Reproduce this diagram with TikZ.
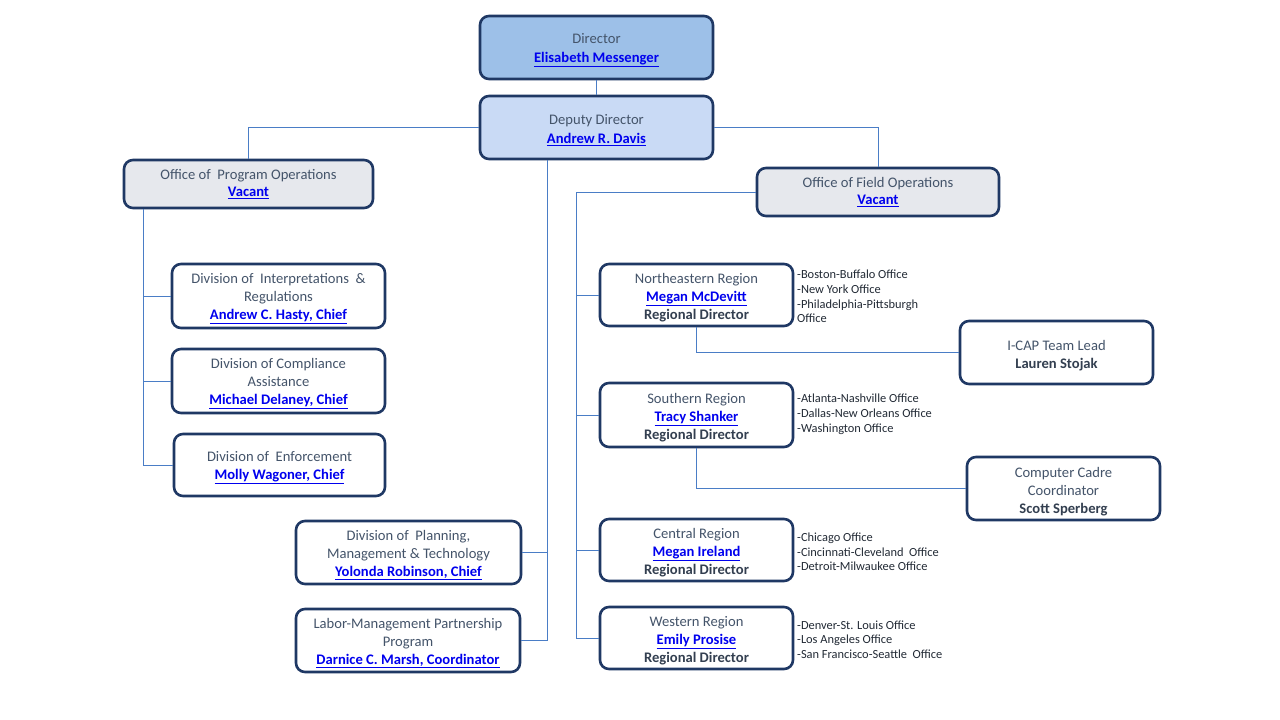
\documentclass[tikz,border=0pt]{standalone}
\usepackage{fontspec}
\setmainfont{Carlito}
\usepackage{xcolor}
\definecolor{boxedge}{HTML}{1F3864}
\definecolor{dirfill}{HTML}{9DC0E8}
\definecolor{depfill}{HTML}{C9DAF5}
\definecolor{offill}{HTML}{E6E8ED}
\definecolor{titletext}{HTML}{44546A}
\definecolor{boldtext}{HTML}{333F50}
\definecolor{nameblue}{HTML}{0000EE}
\definecolor{linkline}{HTML}{4A7DC6}
\definecolor{listtext}{HTML}{222A35}
\usepackage{tikz}
\usetikzlibrary{positioning,calc}
\newcommand{\who}[1]{\textbf{\color{nameblue}\underline{#1}}}
\newcommand{\role}[1]{\textbf{\color{boldtext}#1}}
\newcommand{\gapline}{\rule{0pt}{15.5pt}}
\tikzset{
  box/.style={draw=boxedge,fill=white,line width=2.6pt,rounded corners=9pt,align=center,
    font=\fontsize{14.6}{18}\selectfont,text=titletext,inner sep=0pt},
  boxd/.style={box,fill=dirfill},
  boxp/.style={box,fill=depfill},
  boxo/.style={box,fill=offill},
  link/.style={draw=linkline,line width=0.9pt},
  offices/.style={anchor=north west,align=left,inner sep=0pt,
    font=\fontsize{12.4}{14.7}\selectfont,text=listtext},
}

\begin{document}
\begin{tikzpicture}[x=1pt,y=-1pt]
  \useasboundingbox[fill=white] (0,0) rectangle (1280,720);
  % top of the chart
  \node[boxd,minimum width=233pt,minimum height=63pt] (dir) at (596.5,47.5) {\gapline Director\\[1pt]\who{Elisabeth Messenger}};
  \node[boxp,minimum width=233pt,minimum height=63pt] (dep) at (596.5,127.5) {\gapline Deputy Director\\[1pt]\who{Andrew R. Davis}};
  % offices
  \node[boxo,minimum width=249pt,minimum height=48pt] (opo) at (248.5,184) {Office of\ \ Program Operations\\[-1pt]\who{Vacant}};
  \node[boxo,minimum width=242pt,minimum height=48pt] (ofo) at (878,192) {Office of Field Operations\\[-1pt]\who{Vacant}};
  % program operations divisions
  \node[box,minimum width=213pt,minimum height=64pt] (dip) at (278.5,296) {\gapline Division of\ \ Interpretations\ \ \&\\Regulations\\\who{Andrew C. Hasty, Chief}};
  \node[box,minimum width=213pt,minimum height=64pt] (dca) at (278.5,381) {\gapline Division of Compliance\\Assistance\\\who{Michael Delaney, Chief}};
  \node[box,minimum width=211pt,minimum height=62pt] (den) at (279.5,465) {\gapline Division of\ \ Enforcement\\\who{Molly Wagoner, Chief}};
  % deputy staff units
  \node[box,minimum width=225pt,minimum height=63pt] (dpm) at (408.5,552.5) {\gapline Division of\ \ Planning,\\Management \& Technology\\\who{Yolonda Robinson, Chief}};
  \node[box,minimum width=224pt,minimum height=63pt] (lmp) at (408,640.5) {\gapline Labor-Management Partnership\\Program\\\who{Darnice C. Marsh, Coordinator}};
  % regions
  \node[box,minimum width=193pt,minimum height=62pt] (ner) at (696.5,295) {\gapline Northeastern Region\\\who{Megan McDevitt}\\\role{Regional Director}};
  \node[box,minimum width=193pt,minimum height=64pt] (sor) at (696.5,415) {\gapline Southern Region\\\who{Tracy Shanker}\\\role{Regional Director}};
  \node[box,minimum width=193pt,minimum height=62pt] (cer) at (696.5,550) {\gapline Central Region\\\who{Megan Ireland}\\\role{Regional Director}};
  \node[box,minimum width=193pt,minimum height=62pt] (wer) at (696.5,638) {\gapline Western Region\\\who{Emily Prosise}\\\role{Regional Director}};
  % field staff
  \node[box,minimum width=193pt,minimum height=63pt] (icap) at (1056.5,352.5) {\gapline I-CAP Team Lead\\\role{Lauren Stojak}};
  \node[box,minimum width=193pt,minimum height=63pt] (ccc) at (1063.5,488.5) {\gapline Computer Cadre\\Coordinator\\\role{Scott Sperberg}};
  % office lists
  \node[offices] (nelist) at (797,270) {-Boston-Buffalo Office\\-New York Office\\-Philadelphia-Pittsburgh\\Office};
  \node[offices] (solist) at (797,394) {-Atlanta-Nashville Office\\-Dallas-New Orleans Office\\-Washington Office};
  \node[offices] (celist) at (797,532.5) {-Chicago Office\\-Cincinnati-Cleveland\ \ Office\\-Detroit-Milwaukee Office};
  \node[offices] (welist) at (797,620.5) {-Denver-St. Louis Office\\-Los Angeles Office\\-San Francisco-Seattle\ \ Office};
  % trunks
  \coordinate (otrunk) at (143,465);
  \coordinate (dtrunk) at (547,640.5);
  \coordinate (ftrunk) at (576,638);
  % connectors
  \draw[link] (dir.south) -- (dep.north);
  \draw[link] (dep.west) -| (opo.north);
  \draw[link] (dep.east) -| (ofo.north);
  \draw[link] (dep.south -| dtrunk) -- (dtrunk) -- (lmp.east);
  \draw[link] (dpm.east) -- (dpm.east -| dtrunk);
  \draw[link] (opo.south -| otrunk) -- (otrunk) -- (den.west);
  \foreach \d in {dip,dca}{\draw[link] (\d.west) -- (\d.west -| otrunk);}
  \draw[link] (ofo.west) -| (ftrunk) -- (wer.west);
  \foreach \r in {ner,sor,cer}{\draw[link] (\r.west) -- (\r.west -| ftrunk);}
  \draw[link] (ner.south) |- (icap.west);
  \draw[link] (sor.south) |- (ccc.west);
\end{tikzpicture}
\end{document}
